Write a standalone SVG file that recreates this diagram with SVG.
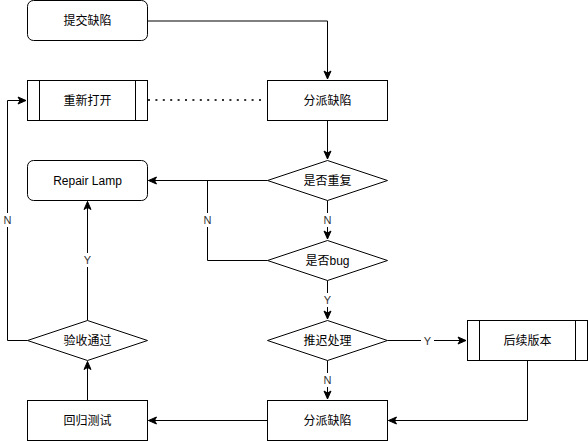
<svg xmlns="http://www.w3.org/2000/svg" width="588" height="441" viewBox="0 0 588 441">
<defs>
<marker id="arr" markerUnits="userSpaceOnUse" markerWidth="10" markerHeight="10" viewBox="0 0 10 10" refX="9" refY="5" orient="auto">
<path d="M1,1.5 L9,5 L1,8.5 L3,5 Z" fill="#000" stroke="#000" stroke-width="1"/>
</marker>
<style>
.n{fill:#fff;stroke:#000;stroke-width:1}
.t{font-family:"Liberation Sans","Noto Sans CJK SC",sans-serif;font-size:12px;fill:#000;text-anchor:middle;dominant-baseline:central}
.e{fill:none;stroke:#000;stroke-width:1}
.d{fill:none;stroke:#333;stroke-width:2;stroke-dasharray:2 5.4}
.l{font-family:"Liberation Sans","Noto Sans CJK SC",sans-serif;font-size:11px;fill:#333;text-anchor:middle;dominant-baseline:central}
.lb{fill:#fff}
</style>
</defs>
<rect width="588" height="441" fill="#fff"/>
<g id="edges">
<path class="e" d="M147.5,21 L327.5,21 L327.5,79" marker-end="url(#arr)"/>
<path class="d" d="M148,100 L263,100"/>
<path class="e" d="M327.5,120.5 L327.5,159" marker-end="url(#arr)"/>
<path class="e" d="M267.5,180.5 L148.5,180.5" marker-end="url(#arr)"/>
<path class="e" d="M327.5,200.5 L327.5,239" marker-end="url(#arr)"/>
<path class="e" d="M267.5,260.5 L207.5,260.5 L207.5,180.5"/>
<path class="e" d="M327.5,280.5 L327.5,319" marker-end="url(#arr)"/>
<path class="e" d="M387.5,340.5 L466,340.5" marker-end="url(#arr)"/>
<path class="e" d="M527.5,360.5 L527.5,420.5 L388.5,420.5" marker-end="url(#arr)"/>
<path class="e" d="M327.5,360.5 L327.5,399" marker-end="url(#arr)"/>
<path class="e" d="M267.5,420.5 L148.5,420.5" marker-end="url(#arr)"/>
<path class="e" d="M87.5,400.5 L87.5,361.5" marker-end="url(#arr)"/>
<path class="e" d="M87.5,320.5 L87.5,201.5" marker-end="url(#arr)"/>
<path class="e" d="M27.5,340.5 L7.5,340.5 L7.5,100.5 L26,100.5" marker-end="url(#arr)"/>
<rect class="lb" x="321" y="213" width="13" height="14"/><text class="l" x="327.5" y="220">N</text>
<rect class="lb" x="201" y="213" width="13" height="14"/><text class="l" x="207.5" y="220">N</text>
<rect class="lb" x="321" y="293" width="13" height="14"/><text class="l" x="327.5" y="300">Y</text>
<rect class="lb" x="421" y="333" width="13" height="14"/><text class="l" x="427.5" y="340.5">Y</text>
<rect class="lb" x="321" y="373" width="13" height="14"/><text class="l" x="327.5" y="380">N</text>
<rect class="lb" x="81" y="253" width="13" height="14"/><text class="l" x="87.5" y="260">Y</text>
<rect class="lb" x="1" y="213" width="13" height="14"/><text class="l" x="7.5" y="220">N</text>
</g>
<g id="submit"><rect class="n" x="27.5" y="0.5" width="120" height="40" rx="6"/><text class="t" x="87.5" y="21">提交缺陷</text></g>
<g id="reopen"><rect class="n" x="27.5" y="80.5" width="120" height="40"/><path class="e" d="M39.5,80.5 V120.5 M135.5,80.5 V120.5"/><text class="t" x="87.5" y="101">重新打开</text></g>
<g id="assign1"><rect class="n" x="267.5" y="80.5" width="120" height="40"/><text class="t" x="327.5" y="101">分派缺陷</text></g>
<g id="repair"><rect class="n" x="27.5" y="160.5" width="120" height="40" rx="6"/><text class="t" x="87.5" y="181">Repair Lamp</text></g>
<g id="dup"><path class="n" d="M327.5,160.5 L387.5,180.5 L327.5,200.5 L267.5,180.5 Z"/><text class="t" x="327.5" y="181">是否重复</text></g>
<g id="isbug"><path class="n" d="M327.5,240.5 L387.5,260.5 L327.5,280.5 L267.5,260.5 Z"/><text class="t" x="327.5" y="261">是否bug</text></g>
<g id="defer"><path class="n" d="M327.5,320.5 L387.5,340.5 L327.5,360.5 L267.5,340.5 Z"/><text class="t" x="327.5" y="341">推迟处理</text></g>
<g id="later"><rect class="n" x="467.5" y="320.5" width="120" height="40"/><path class="e" d="M479.5,320.5 V360.5 M575.5,320.5 V360.5"/><text class="t" x="527.5" y="341">后续版本</text></g>
<g id="assign2"><rect class="n" x="267.5" y="400.5" width="120" height="40"/><text class="t" x="327.5" y="421">分派缺陷</text></g>
<g id="regress"><rect class="n" x="27.5" y="400.5" width="120" height="40"/><text class="t" x="87.5" y="421">回归测试</text></g>
<g id="accept"><path class="n" d="M87.5,320.5 L147.5,340.5 L87.5,360.5 L27.5,340.5 Z"/><text class="t" x="87.5" y="341">验收通过</text></g>
</svg>
